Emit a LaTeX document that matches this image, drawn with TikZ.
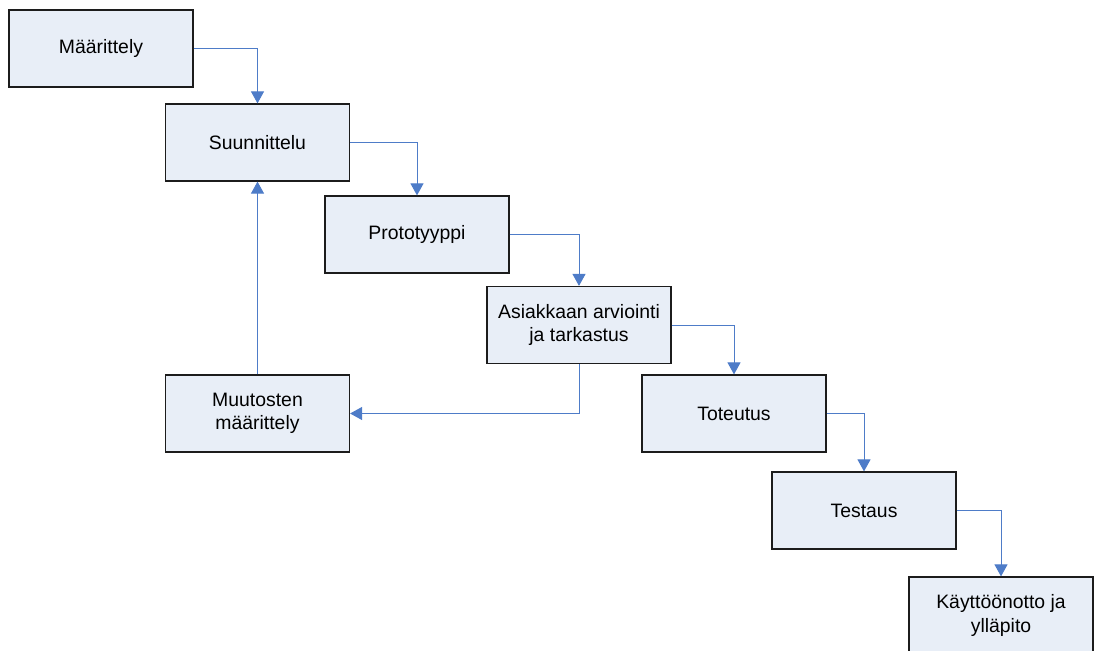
\documentclass[tikz,border=0pt]{standalone}
\usepackage{fontspec}
\setmainfont{Liberation Sans}
\usetikzlibrary{arrows.meta}
\definecolor{boxfill}{RGB}{232,238,247}
\definecolor{boxline}{RGB}{28,28,28}
\definecolor{flow}{RGB}{78,124,200}

\begin{document}
\begin{tikzpicture}[x=1pt,y=-1pt,
  stage/.style={draw=boxline, fill=boxfill, line width=1.2pt,
    minimum width=184pt, minimum height=77pt, inner sep=0pt,
    align=center, font=\fontsize{19.4}{23.5}\selectfont},
  flowline/.style={draw=flow, line width=1pt, -{Triangle[length=12pt,width=13pt]}}]

\clip (0,0) rectangle (1094,650);

% process stages
\node[stage] (def)  at (101,48.5)  {Määrittely};
\node[stage] (plan) at (257.5,142.5) {Suunnittelu};
\node[stage] (proto) at (417,234.5) {Prototyyppi};
\node[stage] (eval) at (579,325)   {Asiakkaan arviointi\\ja tarkastus};
\node[stage] (impl) at (734,413.5) {Toteutus};
\node[stage] (test) at (864,510.5) {Testaus};
\node[stage] (change) at (257.5,413.5) {Muutosten\\määrittely};
\node[stage] (deploy) at (1001,615.5) {Käyttöönotto ja\\ylläpito};

% flow between stages
\draw[flowline] (def.east) -| (plan.north);
\draw[flowline] (plan.east) -| (proto.north);
\draw[flowline] (proto.east) -| (eval.north);
\draw[flowline] (eval.east) -| (impl.north);
\draw[flowline] (impl.east) -| (test.north);
\draw[flowline] (test.east) -| (deploy.north);

% feedback loop
\draw[flowline] (eval.south) |- (change.east);
\draw[flowline] (change.north) -- (plan.south);
\end{tikzpicture}
\end{document}
